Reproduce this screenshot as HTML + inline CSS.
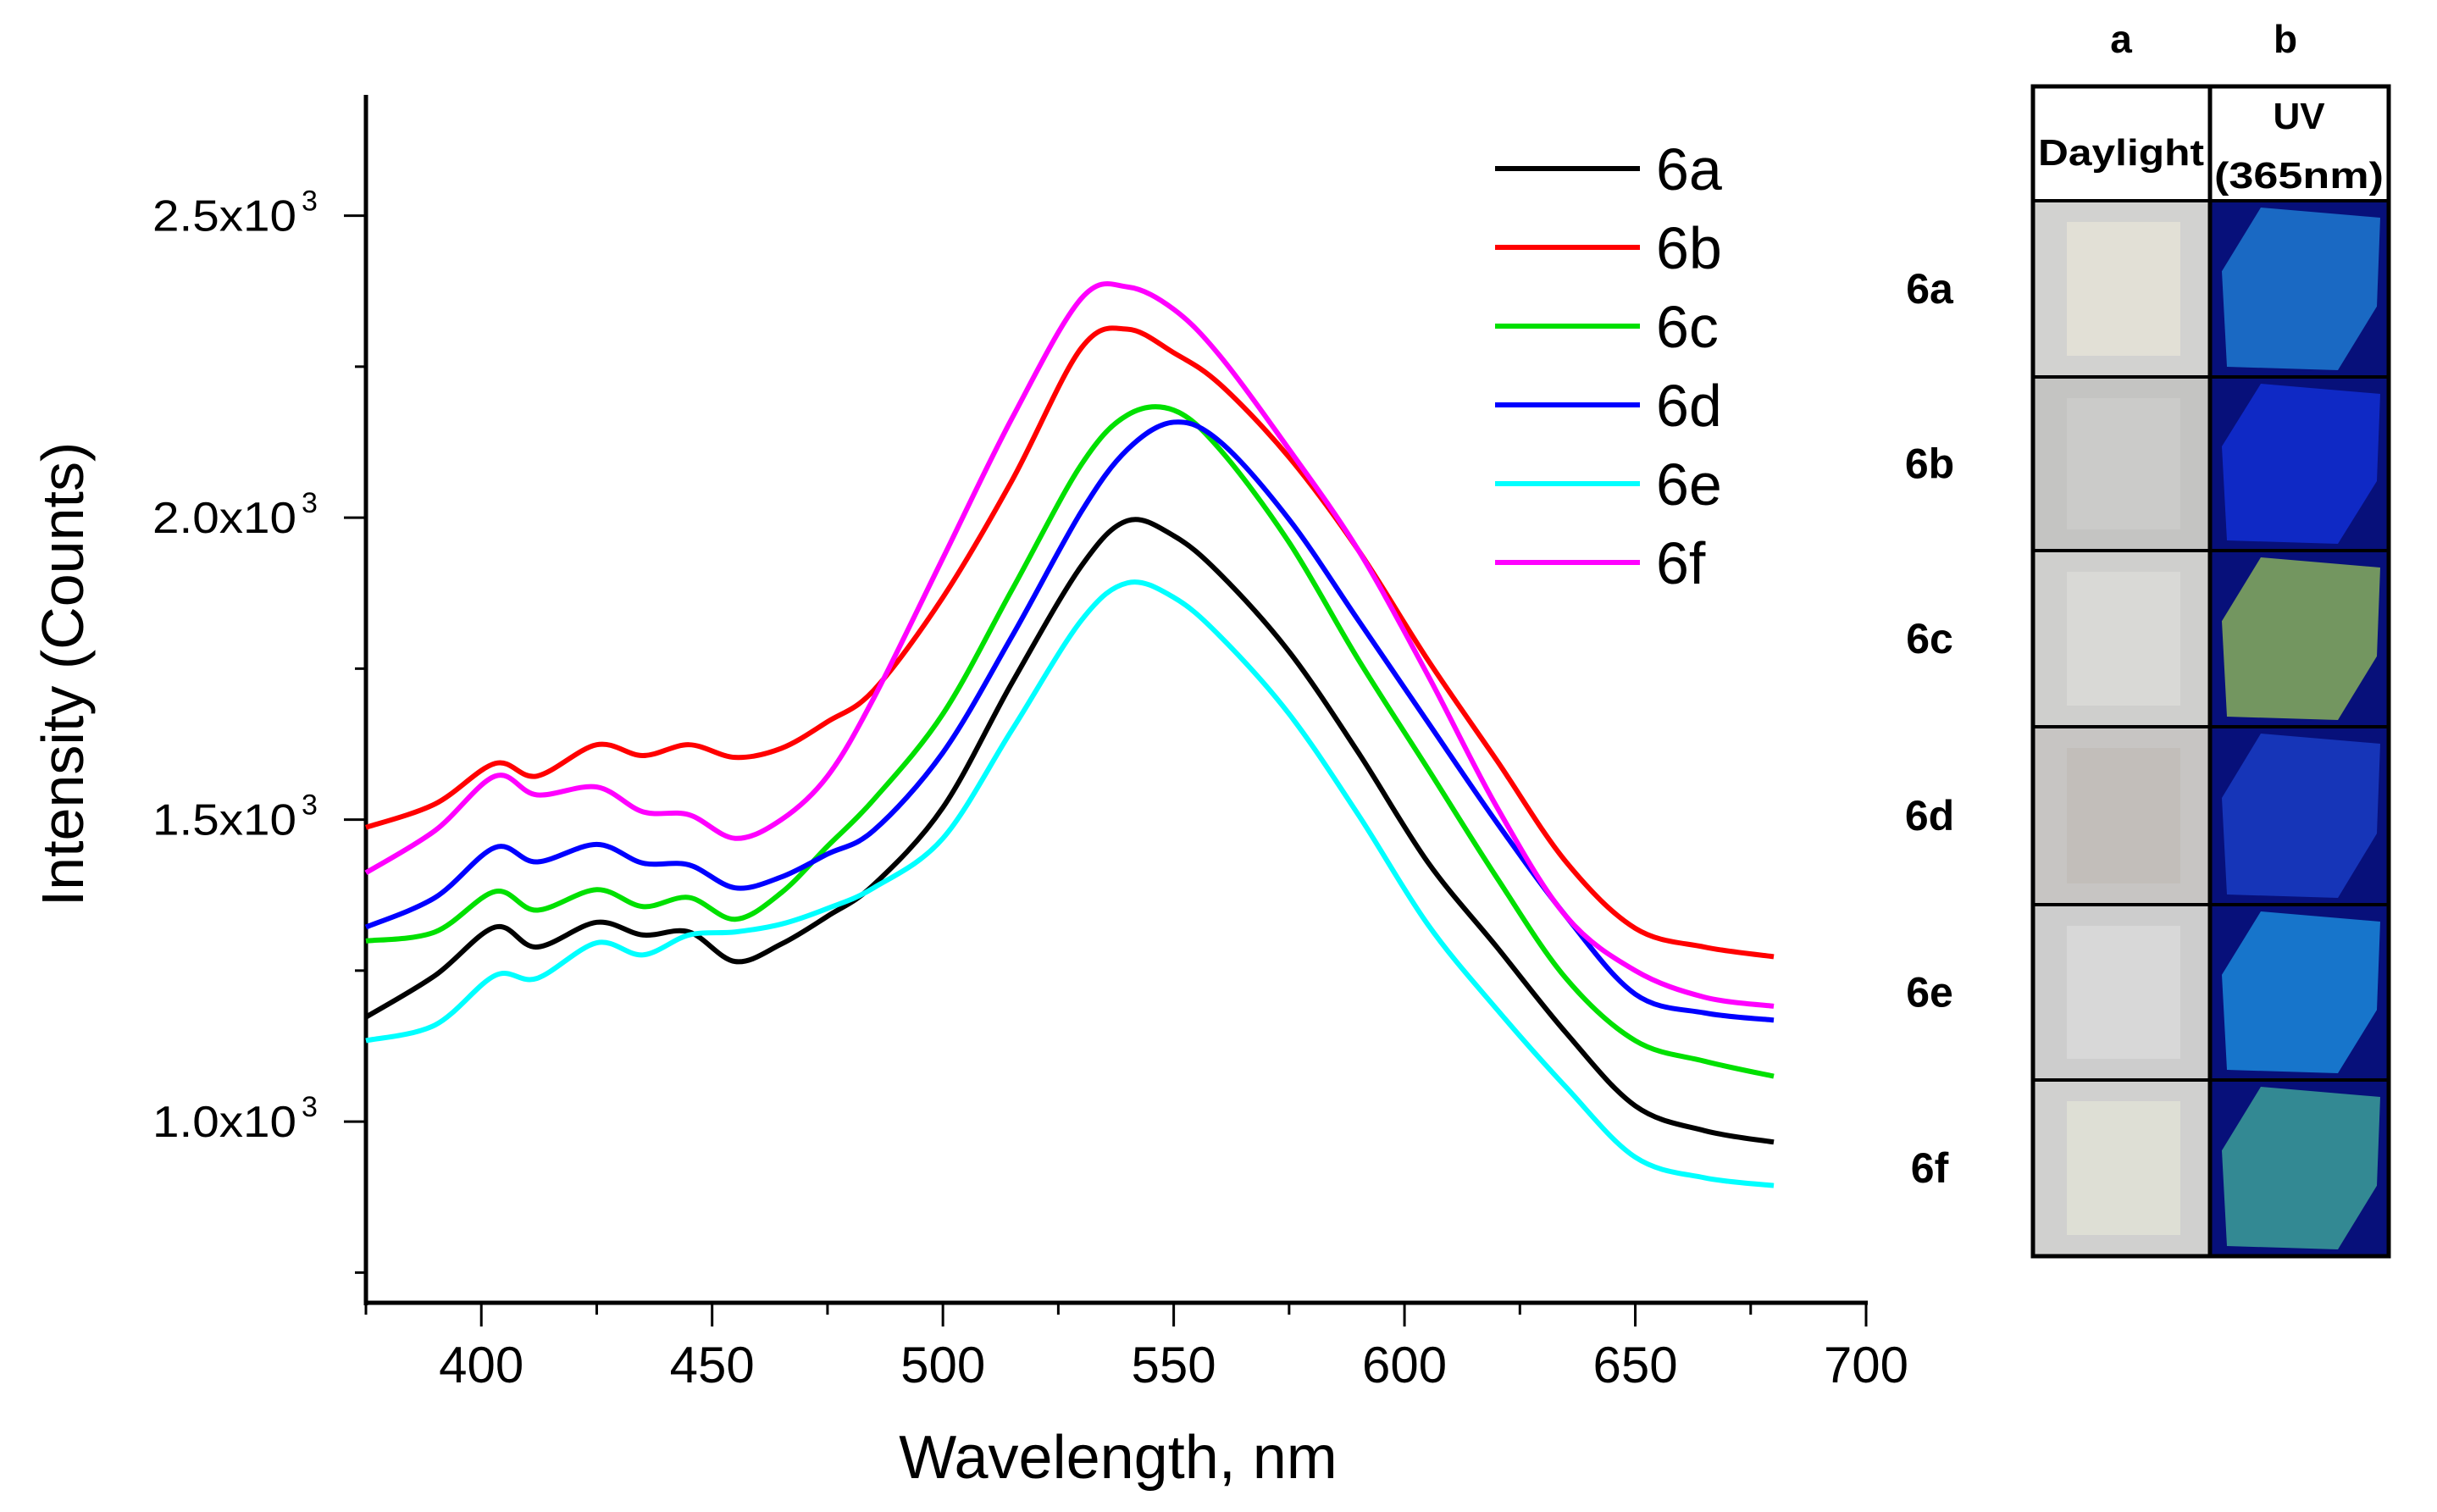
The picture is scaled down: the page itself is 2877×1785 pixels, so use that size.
<!DOCTYPE html>
<html><head><meta charset="utf-8"><style>
html,body{margin:0;padding:0;background:#fff;}
svg{display:block;font-family:"Liberation Sans",Arial,sans-serif;}
</style></head><body>
<svg id="chart" width="2877" height="1785" viewBox="0 0 2877 1785">
<g id="axes"></g>
<g id="series"></g>
<g id="legend"></g>
<g id="panel"></g>
</svg>
<script>
const wavelengths=[375,390,403,412,425,435,445,455,465,475,485,500,515,530,540,550,560,575,590,605,620,635,650,665,680];
const s6a=[1173,1242,1322,1289,1330,1309,1314,1265,1294,1340,1392,1520,1727,1920,1995,1970,1907,1778,1611,1430,1289,1147,1026,985,966];
const s6b=[1487,1526,1593,1572,1624,1606,1624,1603,1618,1662,1714,1868,2062,2281,2312,2273,2221,2100,1946,1765,1598,1430,1320,1289,1273];
const s6c=[1299,1314,1381,1350,1384,1356,1371,1335,1379,1456,1533,1675,1881,2088,2170,2178,2113,1959,1765,1585,1404,1237,1134,1100,1075];
const s6d=[1322,1371,1454,1430,1459,1428,1425,1387,1405,1443,1482,1611,1804,2010,2113,2158,2126,1997,1830,1662,1495,1340,1211,1180,1168];
const s6e=[1134,1160,1242,1237,1296,1276,1309,1314,1327,1353,1387,1469,1649,1830,1892,1868,1804,1675,1508,1327,1186,1057,941,907,894];
const s6f=[1412,1482,1572,1541,1554,1513,1508,1469,1500,1572,1701,1933,2165,2363,2382,2345,2268,2113,1946,1740,1521,1340,1250,1206,1191];
const seriesNames=["6a","6b","6c","6d","6e","6f"];
const seriesColors=["#000000","#ff0000","#00e000","#0000ff","#00ffff","#ff00ff"];
const seriesData=[s6a,s6b,s6c,s6d,s6e,s6f];
const xTicks=[400,450,500,550,600,650,700];
const yTicks=[1000,1500,2000,2500];
const yTickLabels=["1.0x10","1.5x10","2.0x10","2.5x10"];
const rowLabels=["6a","6b","6c","6d","6e","6f"];

const NS="http://www.w3.org/2000/svg";
const X0=432,X1=2203,XMIN=375,XMAX=700,Y0=1538,Y1=112,YMIN=700,YMAX=2700;
function xs(v){return X0+(v-XMIN)*(X1-X0)/(XMAX-XMIN);}
function ys(v){return Y0-(v-YMIN)*(Y0-Y1)/(YMAX-YMIN);}
function mk(tag,attrs,parent,text){const e=document.createElementNS(NS,tag);for(const k in attrs)e.setAttribute(k,attrs[k]);if(text!==undefined)e.textContent=text;parent.appendChild(e);return e;}
const axes=document.getElementById('axes');
let e;
e=mk('line',{x1:X0,y1:Y1,x2:X0,y2:Y0+3,stroke:'#000','stroke-width':5},axes);


e=mk('line',{x1:X0-2,y1:Y0,x2:X1+2,y2:Y0,stroke:'#000','stroke-width':5},axes);


for(let v=375;v<=700;v+=25){
  const major=v%50===0;
  e=mk('line',{x1:xs(v),y1:Y0,x2:xs(v),y2:Y0+(major?28:14),stroke:'#000','stroke-width':3},axes);
  
  
}
xTicks.forEach(v=>{
  e=mk('text',{x:xs(v),y:1632,'font-size':60,'text-anchor':'middle'},axes,String(v));
  
  
});
for(let v=750;v<=2700;v+=250){
  const major=v%500===0;
  e=mk('line',{x1:X0,y1:ys(v),x2:X0-(major?26:13),y2:ys(v),stroke:'#000','stroke-width':3},axes);
  
  
}
yTicks.forEach((v,i)=>{
  const t=mk('text',{x:180,y:ys(v)+18,'font-size':52,textLength:170,lengthAdjust:'spacingAndGlyphs'},axes,yTickLabels[i]);
  
  
  const s=mk('text',{x:356,y:ys(v)-6,'font-size':34},axes,'3');
  
  
});
e=mk('text',{x:1320,y:1745,'font-size':72,'text-anchor':'middle'},axes,'Wavelength, nm');


e=mk('text',{x:0,y:0,'font-size':70,'text-anchor':'middle',transform:'translate(98,796) rotate(-90)'},axes,'Intensity (Counts)');



function pathFor(vals){
  const p=wavelengths.map((w,i)=>[xs(w),ys(vals[i])]);
  let d='M'+p[0][0]+','+p[0][1];
  for(let i=0;i<p.length-1;i++){
    const a=p[Math.max(0,i-1)],b=p[i],c=p[i+1],n=p[Math.min(p.length-1,i+2)];
    const c1=[b[0]+(c[0]-a[0])/6,b[1]+(c[1]-a[1])/6],c2=[c[0]-(n[0]-b[0])/6,c[1]-(n[1]-b[1])/6];
    d+=` C${c1[0]},${c1[1]} ${c2[0]},${c2[1]} ${c[0]},${c[1]}`;
  }
  return d;
}
const sg=document.getElementById('series');
seriesData.forEach((vals,i)=>{
  const pth=mk('path',{d:pathFor(vals),fill:'none',stroke:seriesColors[i],'stroke-width':6,'stroke-linejoin':'round'},sg);
  
  
});
const lg=document.getElementById('legend');
seriesNames.forEach((n,i)=>{
  const y=199+i*93;
  const l=mk('line',{x1:1765,y1:y,x2:1936,y2:y,stroke:seriesColors[i],'stroke-width':6},lg);
  
  
  const t=mk('text',{x:1955,y:y+25,'font-size':70},lg,n);
  
  
});

// photo panel
const pg=document.getElementById('panel');
const L=2400,M=2609,R=2820,T=102;
const rows=[237,445,650,858,1068,1275,1483];
e=mk('text',{x:2504,y:62,'font-size':46,'font-weight':'bold','text-anchor':'middle'},pg,'a');


e=mk('text',{x:2698,y:62,'font-size':46,'font-weight':'bold','text-anchor':'middle'},pg,'b');


e=mk('text',{x:2504,y:195,'font-size':44,'font-weight':'bold','text-anchor':'middle',textLength:196,lengthAdjust:'spacingAndGlyphs'},pg,'Daylight');


e=mk('text',{x:2714,y:152,'font-size':44,'font-weight':'bold','text-anchor':'middle'},pg,'UV');


e=mk('text',{x:2714,y:222,'font-size':44,'font-weight':'bold','text-anchor':'middle',textLength:200,lengthAdjust:'spacingAndGlyphs'},pg,'(365nm)');


const dayBg=['#d2d2d0','#c4c4c2','#cfcfcd','#c7c5c3','#cdcdcd','#d0d0cf'];
const dayFg=['#e2e0d6','#cbcbc9','#d9d9d6','#c2beba','#d8d8d8','#dedfd5'];
const uvFg=['#1f7fd6','#1230d8','#8fb85a','#1a3fc8','#1b8fe0','#3fa89a'];
rowLabels.forEach((n,i)=>{
  const y0=rows[i],y1=rows[i+1],h=y1-y0;
  const t=mk('text',{x:2278,y:(y0+y1)/2+17,'font-size':50,'font-weight':'bold','text-anchor':'middle'},pg,n);
  
  
  const d=mk('rect',{x:L,y:y0,width:M-L,height:h,fill:dayBg[i]},pg);
  
  
  mk('rect',{x:L+40,y:y0+25,width:M-L-75,height:h-50,fill:dayFg[i]},pg);
  const u=mk('rect',{x:M,y:y0,width:R-M,height:h,fill:'#07107a'},pg);
  
  
  mk('polygon',{points:`${M+14},${y0+h*0.4} ${M+60},${y0+8} ${R-10},${y0+20} ${R-14},${y0+h*0.6} ${R-60},${y1-8} ${M+20},${y1-12}`,fill:uvFg[i],opacity:0.8},pg);
});
mk('rect',{x:L,y:T,width:R-L,height:rows[6]-T,fill:'none',stroke:'#000','stroke-width':5},pg);
mk('line',{x1:M,y1:T,x2:M,y2:rows[6],stroke:'#000','stroke-width':5},pg);
rows.slice(0,6).forEach(y=>mk('line',{x1:L,y1:y,x2:R,y2:y,stroke:'#000','stroke-width':4},pg));
</script>
</body></html>
